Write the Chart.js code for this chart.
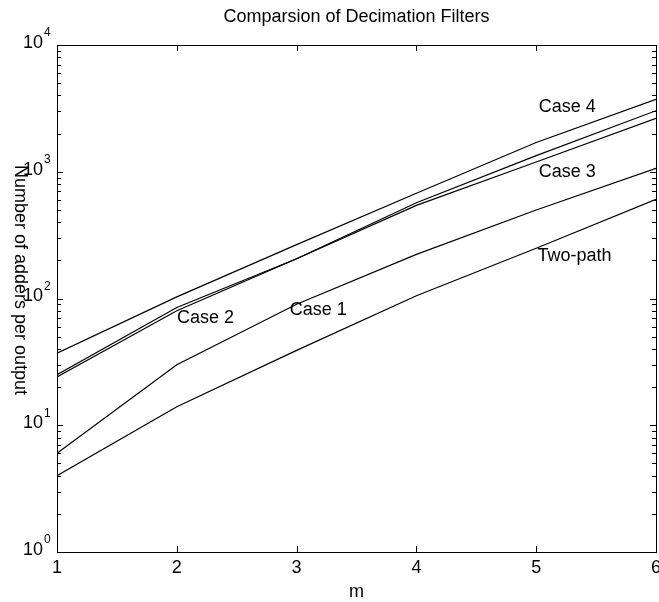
<!DOCTYPE html>
<html>
<head>
<meta charset="utf-8">
<script src="https://cdn.jsdelivr.net/npm/chart.js@4"></script>
<style>
  html, body { margin: 0; padding: 0; background: #fff; }
  #wrap { width: 659px; height: 602px; }
</style>
</head>
<body>
<div id="wrap"><canvas id="chartFiltros" width="659" height="602"></canvas></div>
<script>
// m values and adders per output for each filter structure
const m = [1, 2, 3, 4, 5, 6];
const case4 = [37, 103, 266, 676, 1700, 3730];
const case3 = [25, 85, 206, 543, 1195, 2640];
const case2 = [24, 80, 206, 570, 1340, 3030];
const case1 = [6, 30, 90, 223, 499, 1065];
const twoPath = [4, 14, 39, 105, 249, 606];

const xTicks = [1, 2, 3, 4, 5, 6];
const yExps = [0, 1, 2, 3, 4];

// curve labels, placed in data units
const curveLabels = [
  { text: "Case 4", x: 5.26, y: 3240 },
  { text: "Case 3", x: 5.26, y: 1000 },
  { text: "Case 2", x: 2.24, y: 70 },
  { text: "Case 1", x: 3.18, y: 81 },
  { text: "Two-path", x: 5.32, y: 216 }
];

const FAMILIA = "'Liberation Sans', Arial, sans-serif";
const FONT = "18px " + FAMILIA;

const marcoMatlab = {
  id: "marcoMatlab",
  afterDraw(chart) {
    const { ctx, chartArea: a, scales } = chart;
    const sx = scales.x, sy = scales.y;
    ctx.save();
    ctx.strokeStyle = "#000";
    ctx.lineWidth = 1;
    ctx.strokeRect(a.left + 0.5, a.top + 0.5, a.right - a.left, a.bottom - a.top);

    // x ticks, inward on bottom and top
    ctx.beginPath();
    xTicks.forEach(v => {
      const px = Math.round(sx.getPixelForValue(v)) + 0.5;
      ctx.moveTo(px, a.bottom); ctx.lineTo(px, a.bottom - 6);
      ctx.moveTo(px, a.top); ctx.lineTo(px, a.top + 6);
    });
    // y ticks: decades plus log minor ticks on both sides
    yExps.forEach(e => {
      for (let k = 1; k <= 9; k++) {
        const v = k * Math.pow(10, e);
        if (v > 10000) break;
        const py = Math.round(sy.getPixelForValue(v)) + 0.5;
        const len = k === 1 ? 6 : 4;
        ctx.moveTo(a.left, py); ctx.lineTo(a.left + len, py);
        ctx.moveTo(a.right, py); ctx.lineTo(a.right - len, py);
      }
    });
    ctx.stroke();

    ctx.fillStyle = "#000";
    ctx.font = FONT;
    ctx.textAlign = "center";
    ctx.textBaseline = "middle";
    xTicks.forEach(v => ctx.fillText(String(v), sx.getPixelForValue(v), 568));

    // 10^n labels
    yExps.forEach(e => {
      const py = sy.getPixelForValue(Math.pow(10, e));
      ctx.font = FONT;
      ctx.textAlign = "right";
      ctx.textBaseline = "middle";
      ctx.fillText("10", a.left - 14, py - 2);
      ctx.font = "12px " + FAMILIA;
      ctx.textAlign = "left";
      ctx.fillText(String(e), a.left - 13, py - 12);
    });

    // titles
    ctx.font = FONT;
    ctx.textAlign = "center";
    ctx.textBaseline = "middle";
    ctx.fillText("Comparsion of Decimation Filters", (a.left + a.right) / 2, 17);
    ctx.fillText("m", (a.left + a.right) / 2, 592);
    ctx.save();
    ctx.translate(20, 280);
    ctx.rotate(Math.PI / 2);
    ctx.fillText("Number of adders per output", 0, 0);
    ctx.restore();

    curveLabels.forEach(l => {
      ctx.fillText(l.text, sx.getPixelForValue(l.x), sy.getPixelForValue(l.y));
    });
    ctx.restore();
  }
};

const serie = data => ({
  data: m.map((x, i) => ({ x, y: data[i] })),
  borderColor: "#000",
  borderWidth: 1.2,
  pointRadius: 0,
  fill: false,
  tension: 0
});

new Chart(document.getElementById("chartFiltros"), {
  type: "line",
  data: {
    datasets: [serie(case4), serie(case3), serie(case2), serie(case1), serie(twoPath)]
  },
  options: {
    responsive: false,
    animation: false,
    layout: { padding: { left: 57, right: 3, top: 45, bottom: 50 } },
    plugins: { legend: { display: false }, tooltip: { enabled: false } },
    scales: {
      x: { type: "linear", min: 1, max: 6, display: false },
      y: { type: "logarithmic", min: 1, max: 10000, display: false }
    }
  },
  plugins: [marcoMatlab]
});
</script>
</body>
</html>
